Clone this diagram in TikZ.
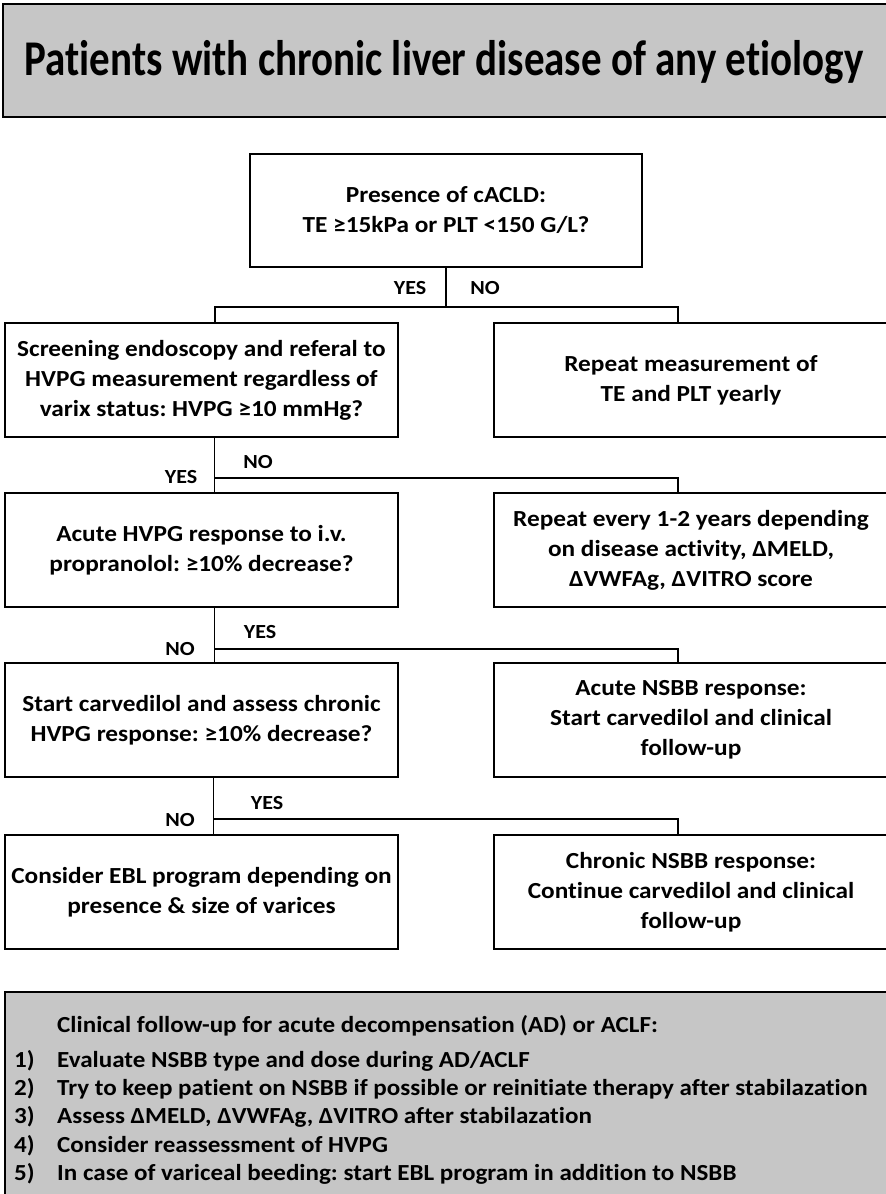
\documentclass[tikz,border=0pt]{standalone}
\usepackage{fontspec}
\setmainfont{Carlito}[FakeStretch=1.1, Ligatures=NoCommon]
\newfontfamily\titlefont{Carlito}[FakeStretch=0.82, Ligatures=NoCommon]
\newfontfamily\listfont{Carlito}[FakeStretch=1.09, Ligatures=NoCommon]
\frenchspacing
\definecolor{boxgray}{HTML}{C6C6C6}
\tikzset{
  stepbox/.style={draw, line width=1.8pt, align=center, inner sep=0pt, minimum width=393pt, minimum height=114pt, font=\bfseries\fontsize{23}{30}\selectfont},
  answer/.style={inner sep=0pt, font=\bfseries\fontsize{20}{24}\selectfont},
  listtext/.style={anchor=base west, inner sep=0pt, font=\listfont\bfseries\fontsize{23}{28}\selectfont},
  link/.style={line width=1.8pt}
}
\begin{document}
\begin{tikzpicture}[x=1pt, y=-1pt]
		%%%%% START %%%%%
		\clip (0,0) rectangle (886,1194);
		
		\filldraw[fill=boxgray, line width=1.8pt] (3,4) rectangle (900,117);
		\node[anchor=base, inner sep=0pt, font=\titlefont\bfseries\fontsize{50}{56}\selectfont] (title) at (444,75) {Patients with chronic liver disease of any etiology};
		
		\node[stepbox, minimum width=392pt, minimum height=113pt] (cacld) at (446,210.5) {Presence of cACLD:\\TE ≥15kPa or PLT <150 G/L?};
		
		\node[stepbox] (screen) at (201.5,380) {Screening endoscopy and referal to\\HVPG measurement regardless of\\varix status: HVPG ≥10 mmHg?};
		\node[stepbox, minimum width=394pt] (yearly) at (691,380) {Repeat measurement of\\TE and PLT yearly};
		
		\node[stepbox] (acute) at (201.5,550) {Acute HVPG response to i.v.\\propranolol: ≥10\% decrease?};
		\node[stepbox, minimum width=394pt] (repeat) at (691,550) {Repeat every 1-2 years depending\\on disease activity, ΔMELD,\\ΔVWFAg, ΔVITRO score};
		
		\node[stepbox] (carve) at (201.5,720) {Start carvedilol and assess chronic\\HVPG response: ≥10\% decrease?};
		\node[stepbox, minimum width=394pt] (acutensbb) at (691,720) {Acute NSBB response:\\Start carvedilol and clinical\\follow-up};
		
		\node[stepbox] (ebl) at (201.5,892) {Consider EBL program depending on\\presence \& size of varices};
		\node[stepbox, minimum width=394pt] (chronicnsbb) at (691,892) {Chronic NSBB response:\\Continue carvedilol and clinical\\follow-up};
		
		% cACLD split
		\draw[link] (cacld.south) -- ++(0,39) coordinate (split1);
		\draw[link] (split1) -| ([xshift=13.5pt]screen.north);
		\draw[link] (split1) -| ([xshift=-13pt]yearly.north);
		\node[answer] (yes1) at (410,288) {YES};
		\node[answer] (no1) at (485,288) {NO};
		
		% HVPG split
		\draw[link] ([xshift=13pt]screen.south) -- ([xshift=13pt]acute.north);
		\draw[link] ([xshift=13pt]screen.south) ++(0,40) coordinate (split2) -| ([xshift=-13pt]repeat.north);
		\node[answer] (yes2) at (181,477) {YES};
		\node[answer] (no2) at (258,462) {NO};
		
		% acute response split
		\draw[link] ([xshift=13pt]acute.south) -- ([xshift=13pt]carve.north);
		\draw[link] ([xshift=13pt]acute.south) ++(0,41) coordinate (split3) -| ([xshift=-13pt]acutensbb.north);
		\node[answer] (yes3) at (260,632) {YES};
		\node[answer] (no3) at (180,649) {NO};
		
		% chronic response split
		\draw[link] ([xshift=12pt]carve.south) -- ([xshift=12pt]ebl.north);
		\draw[link] ([xshift=12pt]carve.south) ++(0,41) coordinate (split4) -| ([xshift=-13pt]chronicnsbb.north);
		\node[answer] (yes4) at (267,803) {YES};
		\node[answer] (no4) at (180,820) {NO};
		
		% follow-up box
		\filldraw[fill=boxgray, line width=1.8pt] (5,992) rectangle (900,1210);
		\node[listtext] (head) at (57,1032) {Clinical follow-up for acute decompensation (AD) or ACLF:};
		\node[listtext] (n1) at (14,1067) {1)};
		\node[listtext] (item1) at (57,1067) {Evaluate NSBB type and dose during AD/ACLF};
		\node[listtext] (n2) at (14,1095) {2)};
		\node[listtext] (item2) at (57,1095) {Try to keep patient on NSBB if possible or reinitiate therapy after stabilazation};
		\node[listtext] (n3) at (14,1123.5) {3)};
		\node[listtext] (item3) at (57,1123.5) {Assess ΔMELD, ΔVWFAg, ΔVITRO after stabilazation};
		\node[listtext] (n4) at (14,1152) {4)};
		\node[listtext] (item4) at (57,1152) {Consider reassessment of HVPG};
		\node[listtext] (n5) at (14,1180) {5)};
		\node[listtext] (item5) at (57,1180) {In case of variceal beeding: start EBL program in addition to NSBB};
		
		%%%%% END %%%%%
\end{tikzpicture}
\end{document}
